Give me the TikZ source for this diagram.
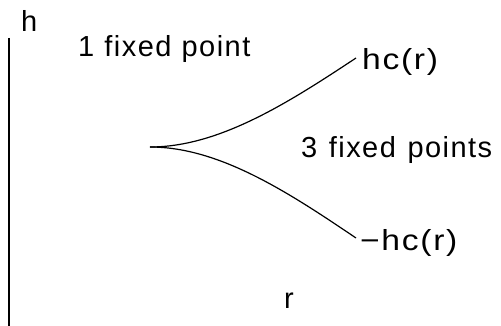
\documentclass[tikz,border=0pt]{standalone}
\usepackage{graphicx}
\usepackage{fontspec}
\setmainfont{Liberation Sans}[LetterSpace=5]
\newcommand{\widetext}[1]{\scalebox{1.16}[1]{#1}}
\begin{document}
\begin{tikzpicture}[x=1pt,y=-1pt,
  lbl/.style={anchor=base west,inner sep=0pt,font=\fontsize{29}{32}\selectfont},
  branch/.style={line width=1.2pt},
  axis/.style={line width=1.8pt}]
\path[use as bounding box] (0,0) rectangle (501,326);
\coordinate (ytop) at (9,38);
\coordinate (ybot) at (9,326);
\draw[axis] (ytop) -- (ybot);
\coordinate (cusp) at (150,147);
\coordinate (up) at (356,58);
\coordinate (lo) at (356,238);
\draw[branch] (cusp) .. controls (219,147) and (288,103) .. (up);
\draw[branch] (cusp) .. controls (219,147) and (288,192) .. (lo);
\node[lbl] (h) at (21,32) {h};
\node[lbl] (one) at (78,57) {1\hspace{0.35em}fixed\hspace{0.35em}point};
\node[lbl] (hc) at (362,70) {\widetext{hc(r)}};
\node[lbl] (three) at (301,158) {3\hspace{0.4em}fixed\hspace{0.4em}points};
\node[lbl] (mhc) at (360,250) {\widetext{−hc(r)}};
\node[lbl] (r) at (284,308) {r};
\end{tikzpicture}
\end{document}
